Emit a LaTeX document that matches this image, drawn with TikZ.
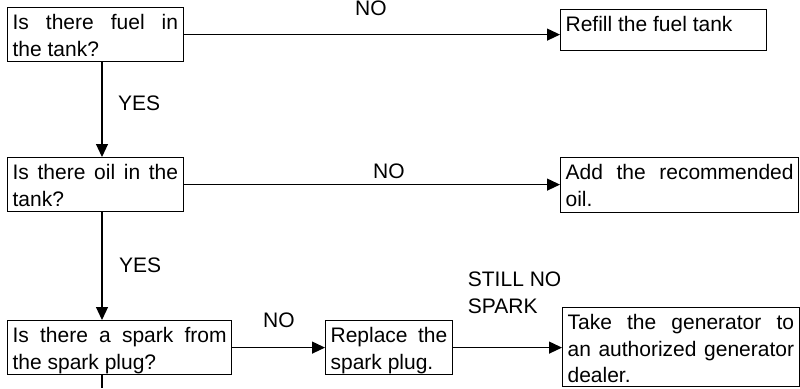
\documentclass[tikz,border=0pt]{standalone}
\usepackage{fontspec}
\setmainfont{Liberation Sans}
\usetikzlibrary{arrows.meta}
\newcommand{\bxt}[3]{\parbox[t][#2][t]{#1}{\rule{0pt}{22pt}#3}}
\begin{document}
\begin{tikzpicture}[x=1pt,y=-1pt,
  fbox/.style={draw,line width=1.2pt,inner xsep=5pt,inner ysep=0pt,anchor=north west,font=\fontsize{21}{26.5}\selectfont},
  lbl/.style={inner sep=0pt,anchor=base west,font=\fontsize{21}{26.5}\selectfont,align=left},
  conn/.style={line width=1.2pt},
  arr/.style={conn,-{Triangle[length=13pt,width=12pt]}}]
\useasboundingbox (0,0) rectangle (800,388);
\node[fbox] (b1) at (7,7) {\bxt{165.5pt}{54pt}{Is there fuel in\linebreak the tank?}};
\node[fbox] (b2) at (560,9) {\bxt{196pt}{41pt}{Refill the fuel tank}};
\node[fbox] (b3) at (7,157) {\bxt{165.5pt}{54pt}{Is there oil in the\linebreak tank?}};
\node[fbox] (b4) at (560,157) {\bxt{228pt}{54.5pt}{Add the recommended\linebreak oil.}};
\node[fbox] (b5) at (7,320) {\bxt{214pt}{54pt}{Is there a spark from\linebreak the spark plug?}};
\node[fbox] (b6) at (325,320) {\bxt{116.7pt}{54pt}{Replace the\linebreak spark plug.}};
\node[fbox] (b7) at (562,307) {\bxt{226.5pt}{78.5pt}{Take the generator to\linebreak an authorized generator\linebreak dealer.}};
\coordinate (vx) at (102,0);
\coordinate (bot) at (102,388);
\draw[arr] (b1.east) -- (b1.east -| b2.west);
\draw[arr] (b3.east) -- (b3.east -| b4.west);
\draw[arr] (b5.east) -- (b5.east -| b6.west);
\draw[arr] (b6.east) -- (b6.east -| b7.west);
\draw[arr] (b1.south -| vx) -- (b3.north -| vx);
\draw[arr] (b3.south -| vx) -- (b5.north -| vx);
\draw[conn] (b5.south -| vx) -- (bot);
\node[lbl] (l1) at (355,16) {NO};
\node[lbl] (l2) at (118,110) {YES};
\node[lbl] (l3) at (373,178) {NO};
\node[lbl] (l4) at (119,272.7) {YES};
\node[lbl] (l5) at (263,327) {NO};
\node[lbl] (l6) at (467.7,313.3) {STILL NO\\SPARK};
\end{tikzpicture}
\end{document}
